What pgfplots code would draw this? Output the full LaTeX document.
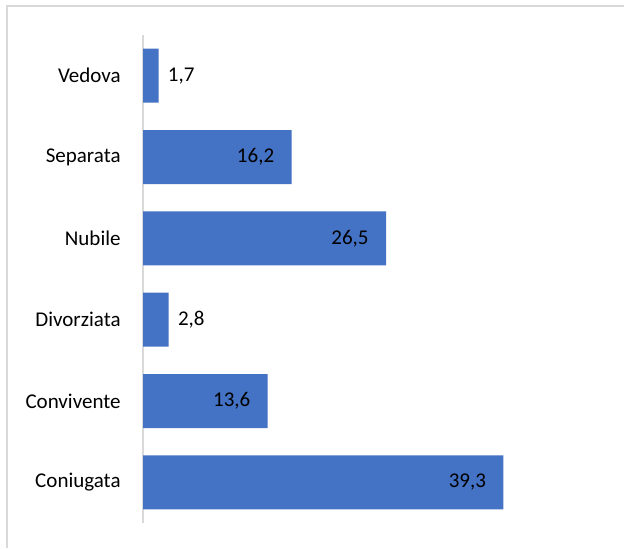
\documentclass[border=0pt]{standalone}
\usepackage{pgfplots}
\pgfplotsset{compat=1.18}
\usepackage{fontspec}
\setmainfont{Carlito}
\definecolor{barblue}{HTML}{4472C4}
\definecolor{framegray}{HTML}{D9D9D9}
\definecolor{axisgray}{HTML}{D9D9D9}
\begin{document}
\begin{tikzpicture}
\useasboundingbox (0,0) rectangle (312pt,274pt);
\draw[framegray, line width=0.8pt] (3.5pt,0) -- (3.5pt,271pt) -- (312pt,271pt);
\begin{axis}[
  at={(71.5pt,12.5pt)}, anchor=south west,
  scale only axis,
  width=229.25pt, height=244pt,
  xbar, bar width=27pt, bar shift=0pt,
  xmin=0, xmax=50,
  ymin=-0.5, ymax=5.5,
  ytick={0,1,2,3,4,5},
  yticklabels={Coniugata,Convivente,Divorziata,Nubile,Separata,Vedova},
  xtick=\empty,
  axis x line=none,
  axis y line*=left,
  y axis line style={axisgray, line width=0.8pt, -},
  major tick length=0pt,
  yticklabel style={font=\fontsize{10.5}{12.6}\selectfont, inner sep=0pt, anchor=east, xshift=-11pt},
  clip=false,
]
\addplot[fill=barblue, draw=none] coordinates {
  (39.3,0) (13.6,1) (2.8,2) (26.5,3) (16.2,4) (1.7,5)
};
\addplot[draw=none, fill=none, bar shift=0pt,
  point meta=explicit symbolic,
  nodes near coords,
  nodes near coords style={font=\fontsize{10.5}{12.6}\selectfont, anchor=east, inner sep=0pt, xshift=-8.5pt, text=black}]
  coordinates {
  (39.3,0) [39,3] (13.6,1) [13,6] (26.5,3) [26,5] (16.2,4) [16,2]
};
\addplot[draw=none, fill=none, bar shift=0pt,
  point meta=explicit symbolic,
  nodes near coords,
  nodes near coords style={font=\fontsize{10.5}{12.6}\selectfont, anchor=west, inner sep=0pt, xshift=4.5pt, text=black}]
  coordinates {
  (2.8,2) [2,8] (1.7,5) [1,7]
};
\end{axis}
\end{tikzpicture}
\end{document}
